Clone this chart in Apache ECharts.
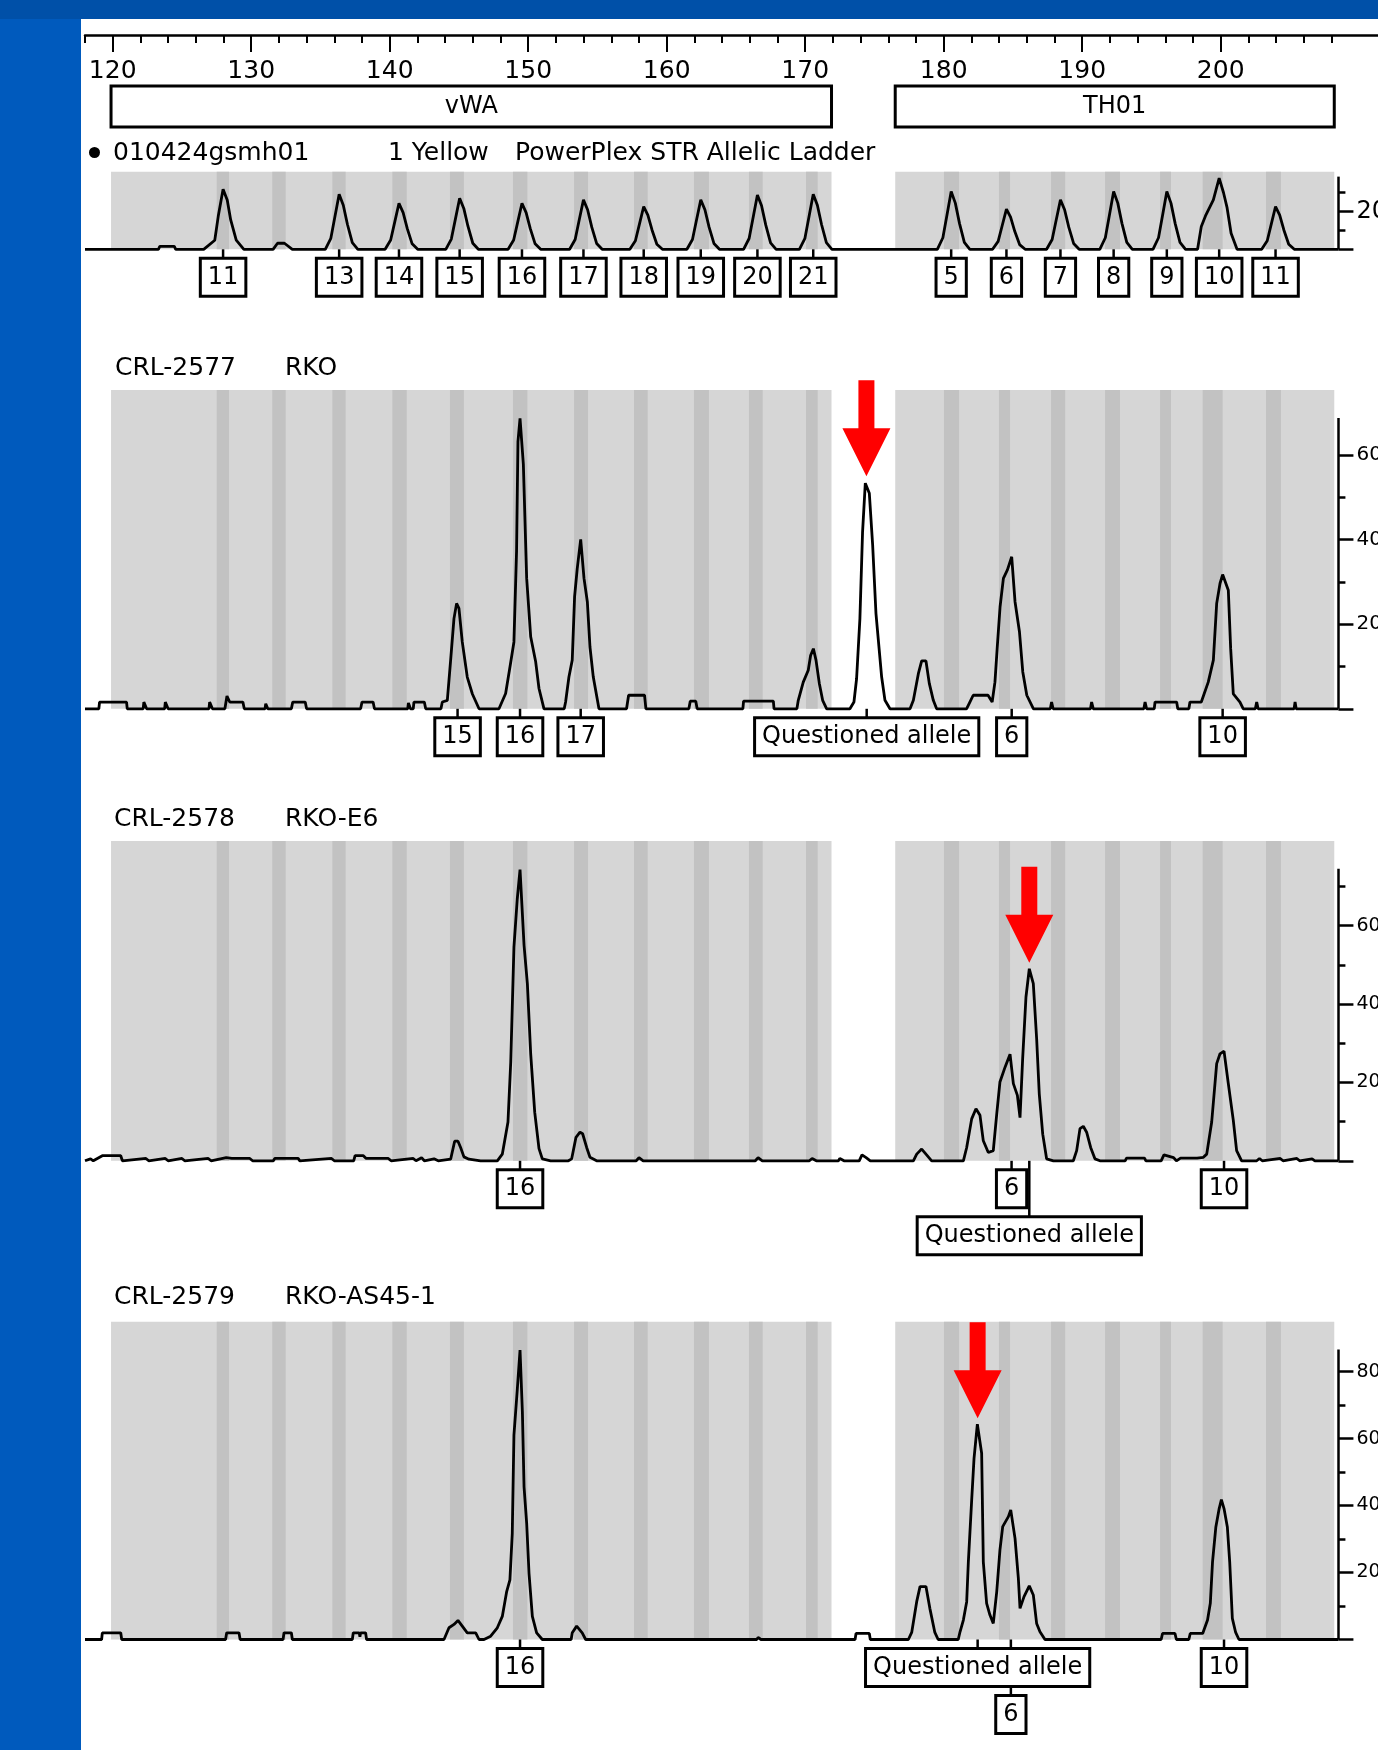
<!DOCTYPE html>
<html>
<head>
<meta charset="utf-8">
<script src="https://cdn.jsdelivr.net/npm/echarts@6/dist/echarts.min.js"></script>
<style>
  html, body { margin: 0; padding: 0; background: #fff; overflow: hidden; }
  #chart { width: 1378px; height: 1750px; }
</style>
</head>
<body>
<div id="chart"></div>
<script>
// size axis (bp) tick labels and minor ticks
const sizeTicks = [120, 130, 140, 150, 160, 170, 180, 190, 200]
const sizeMinorTicks = [118, 120, 122, 124, 126, 128, 130, 132, 134, 136, 138, 140, 142, 144, 146, 148, 150,
  152, 154, 156, 158, 160, 162, 164, 166, 168, 170, 172, 174, 176, 178, 180, 182, 184, 186, 188, 190,
  192, 194, 196, 198, 200, 202, 204, 206, 208]

// loci and allele bins (bp)
const locusNames = ['vWA', 'TH01']
const locusStart = [119.88, 176.5]
const locusEnd = [171.9, 208.2]
const binStart = [127.51, 131.52, 135.86, 140.19, 144.35, 148.9, 153.31, 157.64, 161.97, 165.94, 170.06,
  180.02, 183.99, 187.75, 191.65, 195.62, 198.7, 203.27]
const binEnd = [128.4, 132.49, 136.82, 141.23, 145.36, 149.94, 154.32, 158.63, 163.05, 166.93, 170.9,
  181.11, 184.79, 188.77, 192.73, 196.41, 200.14, 204.35]

// allelic ladder trace [bp, rfu]
const ladderTrace = [
  [118, 0], [123.3, 0], [123.4, 15], [124.45, 15], [124.55, 0],
  [126.57, 0], [127.37, 48], [127.62, 174], [127.97, 317], [128.27, 260], [128.52, 155], [128.92, 48], [129.47, 0],
  [131.58, 0], [131.9, 32], [132.4, 32], [132.97, 0],
  [135.35, 0], [135.75, 58], [136.05, 175], [136.35, 291], [136.65, 233], [136.95, 131], [137.3, 35], [137.7, 0],
  [139.67, 0], [140.07, 49], [140.37, 146], [140.67, 243], [140.97, 194], [141.27, 109], [141.62, 29], [142.02, 0],
  [144.05, 0], [144.45, 54], [144.75, 162], [145.05, 270], [145.35, 216], [145.65, 122], [146.0, 32], [146.4, 0],
  [148.55, 0], [148.95, 49], [149.25, 146], [149.55, 243], [149.85, 194], [150.15, 109], [150.5, 29], [150.9, 0],
  [152.99, 0], [153.39, 52], [153.69, 157], [153.99, 261], [154.29, 209], [154.59, 117], [154.94, 31], [155.34, 0],
  [157.34, 0], [157.74, 45], [158.04, 136], [158.34, 226], [158.64, 181], [158.94, 102], [159.29, 27], [159.69, 0],
  [161.46, 0], [161.86, 52], [162.16, 157], [162.46, 261], [162.76, 209], [163.06, 117], [163.41, 31], [163.81, 0],
  [165.55, 0], [165.95, 57], [166.25, 172], [166.55, 287], [166.85, 230], [167.15, 129], [167.5, 34], [167.9, 0],
  [169.58, 0], [169.98, 58], [170.28, 175], [170.58, 291], [170.88, 233], [171.18, 131], [171.53, 35], [171.93, 0],
  [176.6, 0], [176.7, 8], [176.8, 0],
  [179.54, 0], [179.94, 61], [180.24, 183], [180.54, 305], [180.84, 244], [181.14, 137], [181.49, 37], [181.89, 0],
  [183.53, 0], [183.93, 42], [184.23, 127], [184.53, 212], [184.83, 170], [185.13, 95], [185.48, 25], [185.88, 0],
  [187.43, 0], [187.83, 52], [188.13, 157], [188.43, 261], [188.73, 209], [189.03, 117], [189.38, 31], [189.78, 0],
  [191.27, 0], [191.67, 61], [191.97, 183], [192.27, 305], [192.57, 244], [192.87, 137], [193.22, 37], [193.62, 0],
  [195.11, 0], [195.51, 61], [195.81, 183], [196.11, 305], [196.41, 244], [196.71, 137], [197.06, 37], [197.46, 0],
  [198.33, 0], [198.6, 120], [198.9, 176], [199.47, 261], [199.89, 376], [200.2, 300], [200.46, 220], [200.75, 85], [201.18, 0],
  [202.96, 0], [203.36, 45], [203.66, 136], [203.96, 226], [204.26, 181], [204.56, 102], [204.91, 27], [205.31, 0],
  [207.0, 0], [207.1, 10], [207.2, 0], [208.5, 0]
]
const ladderAlleles = ['11', '13', '14', '15', '16', '17', '18', '19', '20', '21', '5', '6', '7', '8', '9', '10', '11']
const ladderPos = [127.97, 136.35, 140.67, 145.05, 149.55, 153.99, 158.34, 162.46, 166.55, 170.58,
  180.54, 184.53, 188.43, 192.27, 196.11, 199.89, 203.96]

// CRL-2577 RKO
const rkoTrace = [
  [118, 0], [119.0, 0], [119.05, 16], [121.0, 16], [121.05, 0], [122.2, 0], [122.25, 16], [122.45, 0],
  [123.75, 0], [123.8, 16], [124.0, 0], [126.95, 0], [127.0, 16], [127.2, 0],
  [128.1, 0], [128.25, 30], [128.45, 16], [129.4, 16], [129.5, 0], [131.0, 0], [131.05, 12], [131.2, 0],
  [132.9, 0], [133.0, 16], [133.9, 16], [134.0, 0], [137.9, 0], [138.0, 16], [138.8, 16], [138.9, 0],
  [141.3, 0], [141.35, 14], [141.5, 0], [141.7, 0], [141.75, 16], [142.5, 16], [142.6, 0],
  [143.7, 0], [143.8, 16], [144.16, 20], [144.4, 115], [144.64, 213], [144.83, 249], [145.0, 237], [145.24, 158], [145.6, 75], [145.97, 35], [146.45, 0],
  [147.89, 0], [148.37, 36], [148.68, 98], [148.97, 158], [149.16, 373], [149.26, 631], [149.41, 686], [149.65, 578], [149.89, 308], [150.18, 170], [150.54, 111], [150.78, 48], [151.14, 0],
  [152.6, 0], [152.7, 16], [152.94, 75], [153.18, 115], [153.35, 265], [153.54, 331], [153.79, 400], [154.03, 308], [154.27, 253], [154.46, 146], [154.7, 75], [155.11, 0],
  [157.1, 0], [157.25, 32], [158.4, 32], [158.5, 0], [161.6, 0], [161.7, 18], [162.1, 18], [162.2, 0],
  [165.5, 0], [165.55, 18], [167.7, 18], [167.75, 0],
  [169.4, 0], [169.5, 20], [169.86, 63], [170.22, 91], [170.39, 126], [170.59, 142], [170.78, 115], [171.02, 60], [171.26, 20], [171.55, 0],
  [173.23, 0], [173.52, 16], [173.71, 71], [173.95, 213], [174.14, 416], [174.34, 533], [174.44, 535], [174.63, 509], [174.87, 387], [175.11, 225], [175.52, 75], [175.76, 20], [176.12, 0],
  [177.57, 0], [177.81, 20], [178.17, 83], [178.41, 113], [178.72, 113], [178.96, 60], [179.25, 20], [179.49, 0],
  [181.65, 0], [181.89, 16], [182.13, 32], [183.2, 32], [183.5, 16],
  [183.7, 63], [183.86, 142], [184.07, 241], [184.31, 308], [184.6, 328], [184.91, 359], [185.15, 253], [185.47, 182], [185.71, 87], [186.0, 32], [186.48, 0],
  [187.7, 0], [187.79, 16], [187.9, 0], [190.6, 0], [190.68, 16], [190.8, 0], [194.45, 0], [194.54, 16], [194.65, 0],
  [195.2, 0], [195.26, 16], [196.82, 16], [196.9, 0], [197.7, 0], [197.78, 16], [198.6, 16],
  [198.74, 20], [199.1, 63], [199.47, 115], [199.71, 249], [199.95, 296], [200.14, 317], [200.55, 280], [200.72, 142], [200.91, 35], [201.39, 16], [201.63, 0],
  [202.5, 0], [202.6, 16], [202.7, 0], [205.3, 0], [205.37, 16], [205.45, 0], [208.5, 0]
]
const rkoAlleles = ['15', '16', '17', 'Questioned allele', '6', '10']
const rkoPos = [144.9, 149.41, 153.79, 174.44, 184.91, 200.14]
const rkoRow = [0, 0, 0, 0, 0, 0]

// CRL-2578 RKO-E6
const e6Trace = [
  [118, 0], [118.4, 5], [118.6, 0], [119.25, 13], [120.58, 13], [120.7, 0],
  [122.4, 6], [122.6, 0], [123.8, 6], [124.0, 0], [125.0, 6], [125.2, 0], [126.9, 6], [127.1, 0],
  [128.2, 8], [128.3, 12], [128.6, 6], [129.9, 6], [130.1, 0], [131.6, 0], [131.7, 6], [133.4, 6], [133.5, 0],
  [135.8, 6], [136.0, 0], [137.4, 0], [137.5, 13], [138.1, 13], [138.3, 6], [139.9, 6], [140.1, 0],
  [141.7, 6], [141.9, 0], [142.3, 8], [142.5, 0], [143.2, 5], [143.5, 0],
  [144.4, 4], [144.69, 50], [144.93, 50], [145.12, 34], [145.36, 10], [145.72, 4], [146.56, 0], [147.77, 0],
  [148.13, 17], [148.54, 99], [148.74, 252], [148.97, 545], [149.21, 668], [149.41, 743], [149.7, 550], [149.94, 452], [150.18, 273], [150.47, 124], [150.78, 31], [151.02, 5], [151.62, 0],
  [152.9, 0], [153.14, 5], [153.45, 60], [153.74, 73], [153.93, 69], [154.22, 34], [154.46, 9], [154.94, 0],
  [157.8, 0], [158.0, 8], [158.3, 0], [166.4, 0], [166.6, 8], [166.9, 0], [170.3, 0], [170.5, 6], [170.8, 0],
  [172.4, 0], [172.5, 6], [172.8, 0], [173.9, 0], [174.1, 15], [174.4, 8], [174.7, 0],
  [177.81, 0], [178.05, 17], [178.41, 30], [178.72, 17], [179.13, 0],
  [181.42, 0], [181.66, 34], [182.02, 107], [182.33, 133], [182.62, 116], [182.86, 51], [183.22, 21], [183.58, 26],
  [183.83, 120], [184.06, 201], [184.43, 239], [184.79, 272], [185.03, 197], [185.32, 167], [185.51, 110],
  [185.7, 260], [185.94, 418], [186.18, 490], [186.47, 452], [186.71, 312], [186.9, 171], [187.15, 68], [187.43, 5], [187.92, 0],
  [189.36, 0], [189.6, 26], [189.84, 82], [190.08, 88], [190.32, 73], [190.61, 34], [190.92, 5], [191.28, 0],
  [193.1, 0], [193.2, 7], [194.5, 7], [194.6, 0], [195.7, 0], [195.9, 15], [196.6, 8], [196.8, 0], [197.1, 7], [198.3, 7],
  [198.75, 9], [198.99, 17], [199.35, 99], [199.71, 248], [199.95, 273], [200.24, 280], [200.55, 197], [200.91, 103], [201.15, 26], [201.51, 0],
  [202.6, 0], [202.8, 6], [203.0, 0], [204.3, 6], [204.5, 0], [205.5, 6], [205.7, 0], [206.6, 5], [206.8, 0], [208.5, 0]
]
const e6Alleles = ['16', '6', '10', 'Questioned allele']
const e6Pos = [149.41, 184.9, 200.24, 186.18]
const e6Row = [0, 0, 0, 1]

// CRL-2579 RKO-AS45-1
const as45Trace = [
  [118, 0], [119.2, 0], [119.25, 20], [120.58, 20], [120.65, 0],
  [128.15, 0], [128.23, 20], [129.12, 20], [129.2, 0], [132.3, 0], [132.37, 20], [132.9, 20], [132.97, 0],
  [137.3, 0], [137.37, 20], [137.8, 20], [137.85, 8], [137.9, 20], [138.26, 20], [138.33, 0],
  [143.92, 0], [144.28, 35], [144.64, 45], [144.93, 57], [145.24, 40], [145.6, 20], [146.21, 20], [146.45, 0], [146.81, 0], [147.29, 10], [147.77, 35],
  [148.13, 69], [148.44, 142], [148.68, 178], [148.85, 317], [148.97, 610], [149.21, 745], [149.41, 864], [149.58, 680], [149.7, 456], [149.89, 347], [150.06, 197], [150.3, 69], [150.61, 20], [151.02, 0],
  [153.1, 0], [153.18, 20], [153.5, 40], [153.9, 20], [154.15, 0], [166.5, 0], [166.6, 6], [166.8, 0],
  [173.6, 0], [173.67, 18], [174.63, 18], [174.7, 0],
  [177.45, 0], [177.69, 21], [178.05, 113], [178.29, 158], [178.72, 158], [179.0, 93], [179.36, 21], [179.6, 0],
  [181.05, 0], [181.18, 23], [181.42, 58], [181.66, 113], [181.78, 232], [182.02, 416], [182.19, 541], [182.43, 643], [182.74, 556], [182.86, 232],
  [183.1, 108], [183.34, 73], [183.58, 48], [183.83, 143], [184.06, 267], [184.26, 337], [184.67, 367], [184.84, 387], [185.15, 302], [185.39, 183],
  [185.51, 93], [185.8, 128], [186.18, 160], [186.47, 133], [186.71, 48], [186.95, 23], [187.31, 0],
  [195.7, 0], [195.8, 18], [196.7, 18], [196.8, 0], [197.7, 0], [197.8, 18], [198.7, 18],
  [199.05, 58], [199.25, 108], [199.41, 232], [199.65, 336], [199.89, 391], [200.05, 418], [200.24, 391], [200.48, 336], [200.65, 232], [200.84, 63], [201.08, 21], [201.32, 0],
  [208.5, 0]
]
const as45Alleles = ['16', 'Questioned allele', '10', '6']
const as45Pos = [149.41, 182.45, 200.24, 184.85]
const as45Row = [0, 0, 0, 1]

// questioned allele peaks marked with arrows [bp, rfu]
const rkoQuestioned = [174.42, 535]
const e6Questioned = [186.18, 490]
const as45Questioned = [182.45, 643]

const FONT = 'DejaVu Sans'
const LEFT = 85
const BP_PX = 13.85
const X_MIN = 118
const X_MAX = 208.5
const X_TOP_MAX = 212

const panels = [
  { top: 171.7, base: 249.3, yMax: 410, axisTop: 384, major: [0, 200], minor: [100, 300], ylab: [200], fs: 24,
    trace: ladderTrace, names: ladderAlleles, pos: ladderPos, rows: ladderAlleles.map(() => 0), arrow: null },
  { top: 390, base: 708.8, yMax: 753, axisTop: 687, major: [0, 200, 400, 600], minor: [100, 300, 500], ylab: [200, 400, 600], fs: 20,
    trace: rkoTrace, names: rkoAlleles, pos: rkoPos, rows: rkoRow, arrow: rkoQuestioned },
  { top: 841, base: 1160.8, yMax: 816, axisTop: 745, major: [0, 200, 400, 600], minor: [100, 300, 500, 700], ylab: [200, 400, 600], fs: 19,
    trace: e6Trace, names: e6Alleles, pos: e6Pos, rows: e6Row, arrow: e6Questioned },
  { top: 1321.7, base: 1639.5, yMax: 949, axisTop: 866, major: [0, 200, 400, 600, 800], minor: [100, 300, 500, 700], ylab: [200, 400, 600, 800], fs: 19,
    trace: as45Trace, names: as45Alleles, pos: as45Pos, rows: as45Row, arrow: as45Questioned }
]

const black = '#000'
const grid = [{ left: LEFT, top: 35, width: (X_TOP_MAX - X_MIN) * BP_PX, height: 92, outerBoundsMode: 'none', containLabel: false }]
const xAxis = [
  {
    gridIndex: 0, type: 'value', position: 'top', min: X_MIN, max: X_TOP_MAX,
    axisLine: { onZero: false, lineStyle: { color: black, width: 2.5 } },
    axisTick: { inside: true, length: 17, customValues: sizeTicks, lineStyle: { color: black, width: 2 } },
    axisLabel: { inside: true, customValues: sizeTicks, margin: 24, fontSize: 25, color: black, fontFamily: FONT },
    splitLine: { show: false }
  },
  {
    gridIndex: 0, type: 'value', position: 'top', min: X_MIN, max: X_TOP_MAX,
    axisLine: { show: false, onZero: false },
    axisTick: { inside: true, length: 8, customValues: sizeMinorTicks, lineStyle: { color: black, width: 2 } },
    axisLabel: { show: false }, splitLine: { show: false }
  }
]
const yAxis = [{ gridIndex: 0, type: 'value', min: 0, max: 1, show: false }]
const series = [{
  type: 'line', xAxisIndex: 0, yAxisIndex: 0, data: [], silent: true,
  markArea: {
    silent: true,
    itemStyle: { color: '#fff', borderColor: black, borderWidth: 3, opacity: 1 },
    label: { position: 'inside', fontSize: 24, color: black, fontFamily: FONT },
    data: locusNames.map((n, i) => [{ name: n, xAxis: locusStart[i], yAxis: 0 }, { xAxis: locusEnd[i], yAxis: 0.446 }])
  }
}]

panels.forEach((p, k) => {
  const gi = k + 1
  grid.push({ left: LEFT, top: p.top, width: (X_MAX - X_MIN) * BP_PX, height: p.base - p.top, outerBoundsMode: 'none', containLabel: false })
  xAxis.push({ gridIndex: gi, type: 'value', min: X_MIN, max: X_MAX, show: false })
  const yMajor = yAxis.length
  yAxis.push({
    gridIndex: gi, type: 'value', position: 'right', min: 0, max: p.yMax,
    axisLine: { show: false, onZero: false }, splitLine: { show: false },
    axisTick: { show: true, length: 15, customValues: p.major, lineStyle: { color: black, width: 2.5 } },
    axisLabel: { customValues: p.ylab, margin: 18, fontSize: p.fs, color: black, fontFamily: FONT }
  })
  yAxis.push({
    gridIndex: gi, type: 'value', position: 'right', min: 0, max: p.yMax,
    axisLine: { show: false, onZero: false }, splitLine: { show: false },
    axisTick: { show: true, length: 7, customValues: p.minor, lineStyle: { color: black, width: 2.5 } },
    axisLabel: { show: false }
  })
  const xi = gi + 1
  // grey locus areas and darker allele bins
  const areas = locusNames.map((n, i) => [
    { xAxis: locusStart[i], yAxis: 0, itemStyle: { color: '#d6d6d6', opacity: 1 } }, { xAxis: locusEnd[i], yAxis: p.yMax }])
  binStart.forEach((b, i) => areas.push([
    { xAxis: b, yAxis: 0, itemStyle: { color: '#c2c2c2', opacity: 1 } }, { xAxis: binEnd[i], yAxis: p.yMax }]))
  series.push({
    type: 'line', xAxisIndex: xi, yAxisIndex: yMajor, data: [], z: 1, silent: true,
    markArea: { silent: true, label: { show: false }, data: areas }
  })
  const trace = {
    type: 'line', xAxisIndex: xi, yAxisIndex: yMajor, data: p.trace, z: 3, silent: true, clip: false,
    symbol: 'none', lineStyle: { color: black, width: 2.8 },
    markLine: {
      silent: true, symbol: ['none', 'none'], label: { show: false },
      lineStyle: { color: black, width: 2.5, type: 'solid', opacity: 1 },
      data: [[{ coord: [X_MAX, 0] }, { coord: [X_MAX, p.axisTop] }]]
    }
  }
  if (p.arrow) {
    trace.markPoint = {
      silent: true,
      symbol: 'path://M16 0H32V48H48L24 96L0 48H16Z',
      symbolSize: [48, 96], symbolOffset: [0, -54],
      itemStyle: { color: '#ff0000', opacity: 1 }, label: { show: false },
      data: [{ coord: p.arrow }]
    }
  }
  series.push(trace)
  // little ticks from baseline down to the allele boxes
  series.push({
    type: 'scatter', xAxisIndex: xi, yAxisIndex: yMajor, z: 3, silent: true, clip: false,
    symbol: 'rect', itemStyle: { color: black, opacity: 1 },
    data: p.pos.map((x, i) => {
      const len = p.rows[i] ? 56 : 10
      return { value: [x, 0], symbolSize: [2.5, len], symbolOffset: [0, len / 2] }
    })
  })
  // allele boxes
  series.push({
    type: 'scatter', xAxisIndex: xi, yAxisIndex: yMajor, z: 4, silent: true, clip: false,
    symbolSize: 0, itemStyle: { opacity: 1 },
    label: {
      show: true, position: 'inside', formatter: '{b}', color: black, fontSize: 24, fontFamily: FONT,
      opacity: 1, textBorderWidth: 0,
      lineHeight: 30, backgroundColor: '#fff', borderColor: black, borderWidth: 3, padding: [3, 6, 2, 6]
    },
    data: p.pos.map((x, i) => ({ name: p.names[i], value: [x, 0], label: { offset: [0, p.rows[i] ? 75 : 28] } }))
  })
})

const txt = (x, y, text) => ({
  type: 'text', x: x, y: y, z: 50, silent: true,
  style: { text: text, fill: black, font: '25px "DejaVu Sans"', align: 'left', verticalAlign: 'middle' }
})

const chart = echarts.init(document.getElementById('chart'))
chart.setOption({
  animation: false,
  backgroundColor: '#fff',
  grid: grid,
  xAxis: xAxis,
  yAxis: yAxis,
  series: series,
  graphic: [
    { type: 'rect', z: 100, silent: true, shape: { x: 0, y: 0, width: 81, height: 1750 }, style: { fill: '#005abd' } },
    { type: 'rect', z: 100, silent: true, shape: { x: 0, y: 0, width: 1378, height: 19 }, style: { fill: '#0050a8' } },
    { type: 'circle', z: 50, silent: true, shape: { cx: 94.5, cy: 152.5, r: 5.5 }, style: { fill: black } },
    txt(113, 153, '010424gsmh01'),
    txt(388, 153, '1 Yellow'),
    txt(515, 153, 'PowerPlex STR Allelic Ladder'),
    txt(115, 368, 'CRL-2577'),
    txt(285, 368, 'RKO'),
    txt(114, 819, 'CRL-2578'),
    txt(285, 819, 'RKO-E6'),
    txt(114, 1297, 'CRL-2579'),
    txt(285, 1297, 'RKO-AS45-1')
  ]
})
</script>
</body>
</html>
